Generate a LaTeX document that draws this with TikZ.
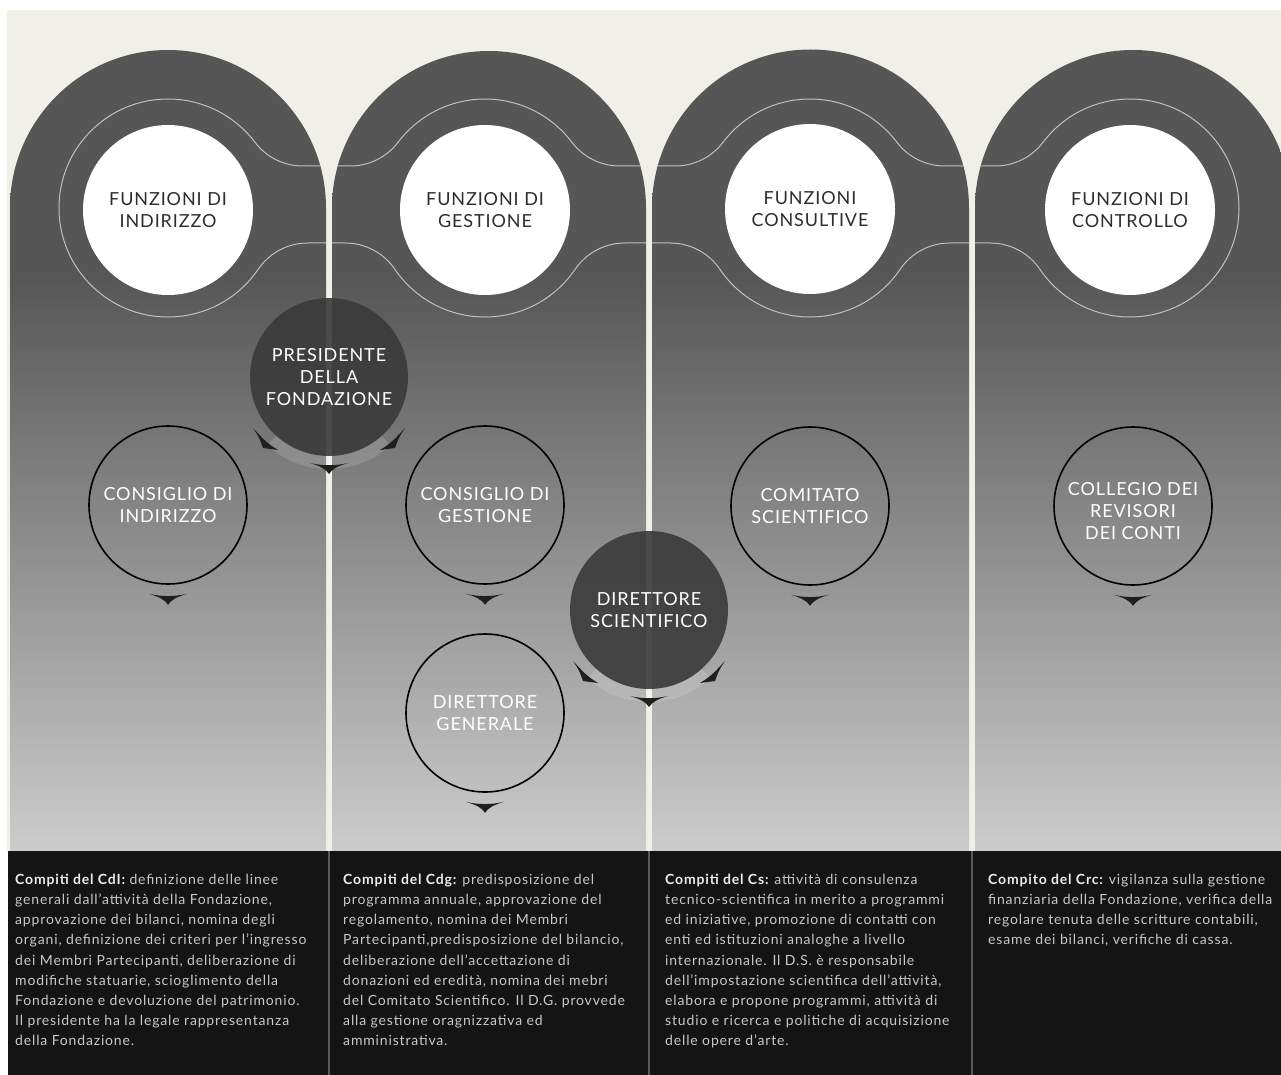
\documentclass[tikz,border=0pt]{standalone}
\usepackage{fontspec}
\setmainfont{Lato}
\usetikzlibrary{calc}
\definecolor{cream}{RGB}{240,240,232}
\definecolor{gtop}{RGB}{86,86,86}
\definecolor{gbot}{RGB}{204,204,204}
\definecolor{panel}{RGB}{20,20,20}
\definecolor{ringc}{RGB}{192,192,192}
\definecolor{darkc}{RGB}{58,58,58}
\definecolor{bodyc}{RGB}{200,200,200}
\definecolor{labc}{RGB}{45,45,45}
\pgfdeclareverticalshading{colgrad}{100bp}{color(0bp)=(gbot); color(25bp)=(gbot); color(61bp)=(gtop); color(75bp)=(gtop); color(100bp)=(gtop)}
\newcommand{\colpath}[3]{(#1,851) -- (#1,208) arc[start angle=180, end angle=360, radius=#3] -- (#2,851) -- cycle}
\newcommand{\myLab}{\fontsize{18}{22}\selectfont\addfontfeatures{LetterSpace=5}}
\newcommand{\myBody}{\fontsize{14}{20.1}\selectfont\addfontfeatures{LetterSpace=6}}
\tikzset{
  wcirc/.style={circle, fill=white, minimum size=170pt, inner sep=0pt, align=center, font=\myLab, text=labc},
  ocirc/.style={circle, draw=black, line width=1.6pt, minimum size=158pt, inner sep=0pt, align=center, font=\myLab, text=white},
  dcirc/.style={circle, fill=darkc, fill opacity=0.9, text opacity=1, minimum size=158pt, inner sep=0pt, align=center, font=\myLab, text=white},
  ringline/.style={draw=ringc, line width=1pt},
  sepline/.style={draw=black!65, line width=1.2pt},
  bodytext/.style={anchor=north west, inner sep=0pt, align=left, font=\myBody, text=bodyc},
  halo/.style={fill=white, opacity=0.14},
  downtip/.pic={\fill[black!88] (-19,0) .. controls (-9,3) and (-3,6) .. (0,11) .. controls (3,6) and (9,3) .. (19,0) .. controls (6,3) and (-6,3) .. cycle;},
  ringtips/.pic={
    \fill[halo] (48:79) arc[start angle=48,end angle=132,radius=79] -- (132:92) arc[start angle=132,end angle=48,radius=92] -- cycle;
    \fill[black!88] (-76,51) .. controls (-70,60) .. (-66,71) -- (-51,73) .. controls (-62,66) .. cycle;
    \fill[black!88] (76,51) .. controls (70,60) .. (66,71) -- (51,73) .. controls (62,66) .. cycle;
    \fill[black!88] (-19,86) .. controls (-9,89) and (-3,92) .. (0,97) .. controls (3,92) and (9,89) .. (19,86) .. controls (6,89) and (-6,89) .. cycle;
  }
}
\begin{document}
\begin{tikzpicture}[x=1pt, y=-1pt]
\useasboundingbox (0,0) rectangle (1281,1075);
\fill[white] (0,0) rectangle (1281,1075);
\fill[cream] (7,10) rectangle (1281,851);
% columns
\shade[shading=colgrad] \colpath{10}{326}{158};
\shade[shading=colgrad] \colpath{332}{646}{157};
\shade[shading=colgrad] \colpath{652}{969}{158.5};
\shade[shading=colgrad] \colpath{975}{1291}{158};
% wavy ring line
\begin{scope}
\clip \colpath{10}{326}{158} \colpath{332}{646}{157} \colpath{652}{969}{158.5} \colpath{975}{1291}{158};
\draw[ringline] (59,208) arc[start angle=180,end angle=322.87,radius=109]
 arc[start angle=142.87,end angle=90,radius=60] -- (350.25,166)
 arc[start angle=90,end angle=37.13,radius=60]
 arc[start angle=217.13,end angle=322.87,radius=109]
 arc[start angle=142.87,end angle=90,radius=60] -- (675.25,166)
 arc[start angle=90,end angle=37.13,radius=60]
 arc[start angle=217.13,end angle=322.87,radius=109]
 arc[start angle=142.87,end angle=90,radius=60] -- (995.25,166)
 arc[start angle=90,end angle=37.13,radius=60]
 arc[start angle=217.13,end angle=505.8,radius=109]
 arc[start angle=-34.2,end angle=-90,radius=60] -- (949.77,243)
 arc[start angle=270,end angle=214.2,radius=60]
 arc[start angle=34.2,end angle=145.8,radius=109]
 arc[start angle=-34.2,end angle=-90,radius=60] -- (624.77,243)
 arc[start angle=270,end angle=214.2,radius=60]
 arc[start angle=34.2,end angle=145.8,radius=109]
 arc[start angle=-34.2,end angle=-90,radius=60] -- (307.77,243)
 arc[start angle=270,end angle=214.2,radius=60]
 arc[start angle=34.2,end angle=180,radius=109] -- cycle;
\end{scope}
% white function circles
\node[wcirc] (findir) at (168,210) {FUNZIONI DI\\INDIRIZZO};
\node[wcirc] (fgest) at (485,210) {FUNZIONI DI\\GESTIONE};
\node[wcirc] (fcons) at (810,209) {FUNZIONI\\CONSULTIVE};
\node[wcirc] (fcontr) at (1130,210) {FUNZIONI DI\\CONTROLLO};
% outline circles
\node[ocirc] (cdi) at (168,505) {CONSIGLIO DI\\INDIRIZZO};
\node[ocirc] (cdg) at (485,505) {CONSIGLIO DI\\GESTIONE};
\node[ocirc] (cs) at (810,506) {COMITATO\\SCIENTIFICO};
\node[ocirc] (crc) at (1133,506) {\rule{0pt}{23pt}COLLEGIO DEI\\REVISORI\\DEI CONTI};
\node[ocirc] (dg) at (485,713) {DIRETTORE\\GENERALE};
% dark circles
\node[dcirc] (pres) at (329,377) {PRESIDENTE\\DELLA\\FONDAZIONE};
\node[dcirc] (ds) at (649,610) {DIRETTORE\\SCIENTIFICO};
% arrow tips around dark circles
\pic at (pres) {ringtips};
\pic at (ds) {ringtips};
% tips under outline circles
\pic at ($(cdi.south)+(0,9)$) {downtip};
\pic at ($(cdg.south)+(0,9)$) {downtip};
\pic at ($(cs.south)+(0,9)$) {downtip};
\pic at ($(crc.south)+(0,9)$) {downtip};
\pic at ($(dg.south)+(0,9)$) {downtip};
% bottom panel
\fill[panel] (8,851) rectangle (1281,1075);
\draw[sepline] (329,851) -- (329,1075);
\draw[sepline] (649,851) -- (649,1075);
\draw[sepline] (972,851) -- (972,1075);
\node[bodytext] (t1) at (15,874) {\textbf{\color{white!92!black}Compiti del CdI:} definizione delle linee\\
generali dall'attività della Fondazione,\\
approvazione dei bilanci, nomina degli\\
organi, definizione dei criteri per l'ingresso\\
dei Membri Partecipanti, deliberazione di\\
modifiche statuarie, scioglimento della\\
Fondazione e devoluzione del patrimonio.\\
Il presidente ha la legale rappresentanza\\
della Fondazione.};
\node[bodytext] (t2) at (343,874) {\textbf{\color{white!92!black}Compiti del Cdg:} predisposizione del\\
programma annuale, approvazione del\\
regolamento, nomina dei Membri\\
Partecipanti,predisposizione del bilancio,\\
deliberazione dell'accettazione di\\
donazioni ed eredità, nomina dei mebri\\
del Comitato Scientifico. Il D.G. provvede\\
alla gestione oragnizzativa ed\\
amministrativa.};
\node[bodytext] (t3) at (665,874) {\textbf{\color{white!92!black}Compiti del Cs:} attività di consulenza\\
tecnico-scientifica in merito a programmi\\
ed iniziative, promozione di contatti con\\
enti ed istituzioni analoghe a livello\\
internazionale. Il D.S. è responsabile\\
dell'impostazione scientifica dell'attività,\\
elabora e propone programmi, attività di\\
studio e ricerca e politiche di acquisizione\\
delle opere d'arte.};
\node[bodytext] (t4) at (988,874) {\textbf{\color{white!92!black}Compito del Crc:} vigilanza sulla gestione\\
finanziaria della Fondazione, verifica della\\
regolare tenuta delle scritture contabili,\\
esame dei bilanci, verifiche di cassa.};
\end{tikzpicture}
\end{document}
